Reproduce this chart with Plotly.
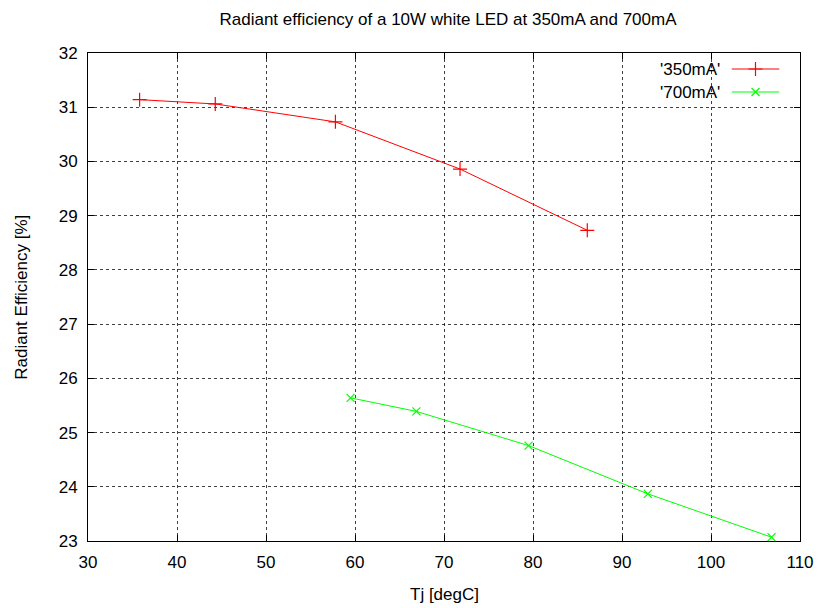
import plotly.graph_objects as go

# Data
tj_350 = [35.8, 44.3, 57.8, 71.8, 86.1]
eff_350 = [31.14, 31.06, 30.73, 29.86, 28.73]
tj_700 = [59.5, 66.9, 79.5, 92.9, 106.8]
eff_700 = [25.64, 25.39, 24.76, 23.87, 23.07]
series_names = ["'350mA'", "'700mA'"]
series_colors = ["#ff0000", "#00ff00"]
series_symbols = ["cross-thin", "x-thin"]
series_sizes = [10, 8]
x_ticks = [30, 40, 50, 60, 70, 80, 90, 100, 110]
y_ticks = [23, 24, 25, 26, 27, 28, 29, 30, 31, 32]

FONT = "Liberation Sans, Arial, Helvetica, sans-serif"
FS = 17

fig = go.Figure()
for xs, ys, name, col, sym, sz in [
    (tj_350, eff_350, series_names[0], series_colors[0], series_symbols[0], series_sizes[0]),
    (tj_700, eff_700, series_names[1], series_colors[1], series_symbols[1], series_sizes[1]),
]:
    fig.add_trace(go.Scatter(
        x=xs, y=ys, mode="lines+markers", name=name,
        line=dict(color=col, width=1),
        marker=dict(symbol=sym, size=sz, color=col, line=dict(color=col, width=1.2)),
        showlegend=False,
    ))

L, R, T, B = 88, 18, 53, 67
W, H = 826, 608
pw, ph = W - L - R, H - T - B
def px2x(px):
    return (px - L) / pw
def py2y(py):
    return (H - B - py) / ph

# Legend samples (gnuplot style: text right-aligned, sample to the right)
leg_rows = [69, 92]
for i, (name, col, sym, sz) in enumerate(zip(series_names, series_colors, series_symbols, series_sizes)):
    yy = py2y(leg_rows[i])
    fig.add_trace(go.Scatter(
        x=[px2x(739), px2x(763), px2x(787)], y=[yy, yy, yy],
        xaxis="x2", yaxis="y2", mode="lines+markers",
        line=dict(color=col, width=1),
        marker=dict(symbol=sym, size=sz, color=col, line=dict(color=col, width=1.2),
                    opacity=[0, 1, 0]),
        showlegend=False, hoverinfo="skip",
    ))
    fig.add_annotation(x=px2x(729), y=yy, xref="paper", yref="paper",
                       text=name, showarrow=False, xanchor="right", yanchor="middle",
                       font=dict(family=FONT, size=FS, color="black"))

# Axis titles
fig.add_annotation(x=px2x(20), y=py2y(H - B - ph / 2), xref="paper", yref="paper",
                   text="Radiant Efficiency [%]", textangle=-90, showarrow=False,
                   xanchor="center", yanchor="middle",
                   font=dict(family=FONT, size=FS, color="black"))
fig.add_annotation(x=0.5, y=py2y(594), xref="paper", yref="paper",
                   text="Tj [degC]", showarrow=False,
                   xanchor="center", yanchor="middle",
                   font=dict(family=FONT, size=FS, color="black"))

axis_common = dict(
    showline=True, linecolor="black", linewidth=1, mirror="allticks",
    ticks="inside", ticklen=6, tickcolor="black", tickwidth=1,
    showgrid=True, gridcolor="rgba(0,0,0,0.75)", griddash="dot", gridwidth=1,
    zeroline=False, tickfont=dict(family=FONT, size=FS, color="black"),
)

fig.update_layout(
    width=W, height=H,
    margin=dict(l=L, r=R, t=T, b=B),
    paper_bgcolor="white", plot_bgcolor="white",
    title=dict(text="Radiant efficiency of a 10W white LED at 350mA and 700mA",
               x=(L + pw / 2) / W, xanchor="center", y=1 - 19 / H, yanchor="middle",
               font=dict(family=FONT, size=17, color="black")),
    xaxis=dict(range=[30, 110], tickvals=x_ticks, ticklabelstandoff=6, **axis_common),
    yaxis=dict(range=[23, 32], tickvals=y_ticks, ticklabelstandoff=6, **axis_common),
    xaxis2=dict(range=[0, 1], overlaying="x", visible=False, fixedrange=True),
    yaxis2=dict(range=[0, 1], overlaying="y", visible=False, fixedrange=True),
    showlegend=False,
)

fig.write_html("out.html")
